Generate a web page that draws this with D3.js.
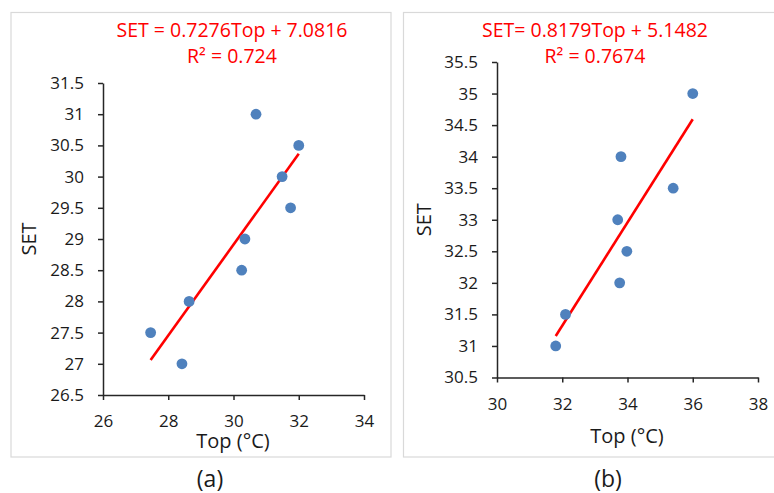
<!DOCTYPE html>
<html>
<head>
<meta charset="utf-8">
<script src="https://cdn.jsdelivr.net/npm/d3@7"></script>
<style>
  body { margin: 0; background: #fff; }
  svg text { font-family: "Open Sans", sans-serif; }
</style>
</head>
<body>
<svg id="chart" width="774" height="493"></svg>
<script>
'use strict';

// panel (a) data
const topA = [30.69, 32.0, 31.49, 31.75, 30.35, 30.25, 28.64, 27.46, 28.42];
const setA = [31, 30.5, 30, 29.5, 29, 28.5, 28, 27.5, 27];
const fitA = [0.7276, 7.0816];
const eqA = ["SET = 0.7276Top + 7.0816", "R² = 0.724"];
const xTicksA = [26, 28, 30, 32, 34];
const yTicksA = [26.5, 27, 27.5, 28, 28.5, 29, 29.5, 30, 30.5, 31, 31.5];

// panel (b) data
const topB = [36.0, 33.8, 35.4, 33.7, 33.98, 33.76, 32.1, 31.8];
const setB = [35, 34, 33.5, 33, 32.5, 32, 31.5, 31];
const fitB = [0.8179, 5.1482];
const eqB = ["SET= 0.8179Top + 5.1482", "R² = 0.7674"];
const xTicksB = [30, 32, 34, 36, 38];
const yTicksB = [30.5, 31, 31.5, 32, 32.5, 33, 33.5, 34, 34.5, 35, 35.5];

const svg = d3.select("#chart");

// draws one framed scatter panel
function drawPanel(opt) {
    const g = svg.append("g");

    g.append("rect")
        .attr("x", opt.box[0]).attr("y", opt.box[1])
        .attr("width", opt.box[2]).attr("height", opt.box[3])
        .attr("fill", "#fff")
        .attr("stroke", "#d9d9d9")
        .attr("stroke-width", 1.2);

    const x = d3.scaleLinear()
        .domain(d3.extent(opt.xTicks))
        .range([opt.plot[0], opt.plot[1]]);
    const y = d3.scaleLinear()
        .domain(d3.extent(opt.yTicks))
        .range([opt.plot[3], opt.plot[2]]);

    const xAxis = g.append("g")
        .attr("transform", "translate(0," + opt.plot[3] + ")")
        .call(d3.axisBottom(x).tickValues(opt.xTicks).tickSize(5).tickSizeOuter(0).tickPadding(15));
    const yAxis = g.append("g")
        .attr("transform", "translate(" + opt.plot[0] + ",0)")
        .call(d3.axisLeft(y).tickValues(opt.yTicks).tickSize(5).tickSizeOuter(0).tickPadding(14).tickFormat(d3.format("")));

    [xAxis, yAxis].forEach(function (a) {
        a.selectAll("path, line").attr("stroke", "#262626").attr("stroke-width", 1.5);
        a.selectAll("text")
            .attr("font-size", 17)
            .attr("fill", "#1a1a1a")
            .style("font-family", "'Open Sans', sans-serif");
    });

    // trendline
    const xr = d3.extent(opt.xs);
    g.append("line")
        .attr("x1", x(xr[0])).attr("y1", y(opt.fit[0] * xr[0] + opt.fit[1]))
        .attr("x2", x(xr[1])).attr("y2", y(opt.fit[0] * xr[1] + opt.fit[1]))
        .attr("stroke", "#ff0000")
        .attr("stroke-width", 2.6);

    g.selectAll("circle")
        .data(opt.xs)
        .enter().append("circle")
        .attr("cx", function (d) { return x(d); })
        .attr("cy", function (d, i) { return y(opt.ys[i]); })
        .attr("r", 5.4)
        .attr("fill", "#4f81bd");

    // equation
    g.selectAll(".eq")
        .data(opt.eq)
        .enter().append("text")
        .attr("class", "eq")
        .attr("x", opt.eqX)
        .attr("y", function (d, i) { return 36.5 + i * 26.5; })
        .attr("text-anchor", "middle")
        .attr("font-size", 19.5)
        .attr("fill", "#ff0000")
        .text(function (d) { return d; });

    g.append("text")
        .attr("x", opt.xLabelX)
        .attr("y", opt.xLabelY)
        .attr("text-anchor", "middle")
        .attr("font-size", 20)
        .attr("fill", "#1a1a1a")
        .text("Top (°C)");

    g.append("text")
        .attr("transform", "translate(" + opt.yLabelX + "," + (opt.plot[2] + opt.plot[3]) / 2 + ") rotate(-90)")
        .attr("text-anchor", "middle")
        .attr("dy", "0.35em")
        .attr("font-size", 20)
        .attr("fill", "#1a1a1a")
        .text("SET");

    svg.append("text")
        .attr("x", opt.capX)
        .attr("y", 487)
        .attr("text-anchor", "middle")
        .attr("font-size", 23)
        .attr("fill", "#1a1a1a")
        .text(opt.caption);
}

drawPanel({
    box: [11, 12.5, 380, 444.5],
    plot: [103, 364, 83, 395],
    xs: topA, ys: setA, fit: fitA, eq: eqA,
    xTicks: xTicksA, yTicks: yTicksA,
    eqX: 232, xLabelX: 233, xLabelY: 448, yLabelX: 28.5,
    capX: 210, caption: "(a)"
});

drawPanel({
    box: [403.5, 12.5, 400, 444.5],
    plot: [497, 758, 62, 377.5],
    xs: topB, ys: setB, fit: fitB, eq: eqB,
    xTicks: xTicksB, yTicks: yTicksB,
    eqX: 595, xLabelX: 627, xLabelY: 443, yLabelX: 424,
    capX: 608, caption: "(b)"
});
</script>
</body>
</html>
